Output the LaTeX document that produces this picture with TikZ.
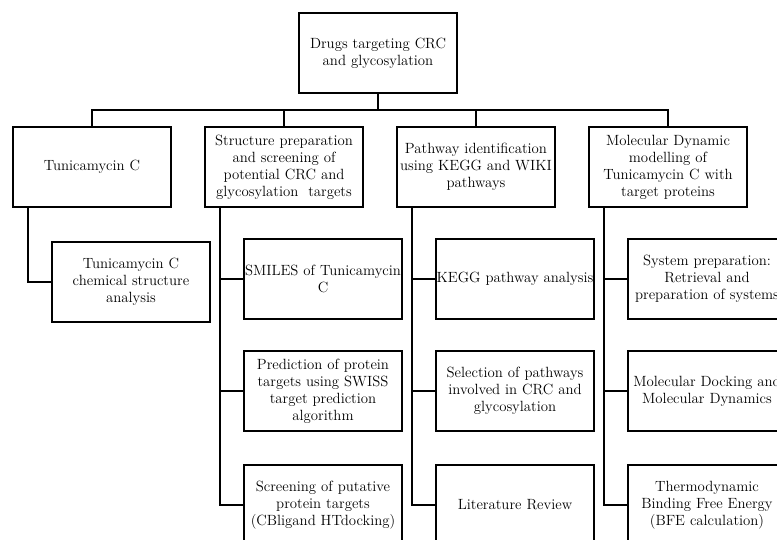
\documentclass[tikz,border=0pt]{standalone}
\begin{document}
\begin{tikzpicture}[x=1pt,y=-1pt,
  box/.style={draw=black,line width=2pt,fill=white,inner xsep=0pt,inner ysep=0pt,
    text width=158pt,minimum height=80pt,align=center,
    font=\fontsize{14.8}{17}\selectfont},
  link/.style={draw=black,line width=2pt,line cap=rect}]
\useasboundingbox (0,0) rectangle (777,539);
\fill[white] (0,0) rectangle (777,539);
\clip (0,0) rectangle (777,539);

% top
\node[box] (top) at (378,53) {Drugs targeting CRC\\and glycosylation};
% level 1
\node[box] (la) at (92,167) {Tunicamycin C};
\node[box] (lb) at (284,167) {Structure preparation\\and screening of\\potential CRC and\\glycosylation\ \ targets};
\node[box] (lc) at (476,167) {Pathway identification\\using KEGG and WIKI\\pathways};
\node[box] (ld) at (668,167) {Molecular Dynamic\\modelling of\\Tunicamycin C with\\target proteins};

% children
\node[box] (a1) at (131,282) {Tunicamycin C\\chemical structure\\analysis};

\node[box] (b1) at (323,279) {SMILES of Tunicamycin\\C\\[6pt]};
\node[box] (b2) at (323,391) {Prediction of protein\\targets using SWISS\\target prediction\\algorithm};
\node[box] (b3) at (323,505) {Screening of putative\\protein targets\\(CBligand HTdocking)};

\node[box] (c1) at (515,279) {KEGG pathway analysis};
\node[box] (c2) at (515,391) {Selection of pathways\\involved\ in CRC and\\glycosylation};
\node[box] (c3) at (515,505) {Literature Review};

\node[box] (d1) at (707,279) {System preparation:\\Retrieval and\\preparation of systems};
\node[box] (d2) at (707,391) {Molecular Docking and\\Molecular Dynamics};
\node[box] (d3) at (707,505) {Thermodynamic\\Binding Free Energy\\(BFE calculation)};

% connectors top -> level 1
\coordinate (bar) at (378,110);
\draw[link] (top.south) -- (top.south |- bar);
\draw[link] (la.north) -- (la.north |- bar) -- (ld.north |- bar) -- (ld.north);
\draw[link] (lb.north) -- (lb.north |- bar);
\draw[link] (lc.north) -- (lc.north |- bar);

% trunks
\coordinate (ta) at ([xshift=16pt]la.south west);
\coordinate (tb) at ([xshift=16pt]lb.south west);
\coordinate (tc) at ([xshift=16pt]lc.south west);
\coordinate (td) at ([xshift=16pt]ld.south west);

\draw[link] (ta) |- (a1.west);

\draw[link] (tb) |- (b3.west);
\draw[link] (b1.west) -- (b1.west -| tb);
\draw[link] (b2.west) -- (b2.west -| tb);

\draw[link] (tc) |- (c3.west);
\draw[link] (c1.west) -- (c1.west -| tc);
\draw[link] (c2.west) -- (c2.west -| tc);

\draw[link] (td) |- (d3.west);
\draw[link] (d1.west) -- (d1.west -| td);
\draw[link] (d2.west) -- (d2.west -| td);
\end{tikzpicture}
\end{document}
